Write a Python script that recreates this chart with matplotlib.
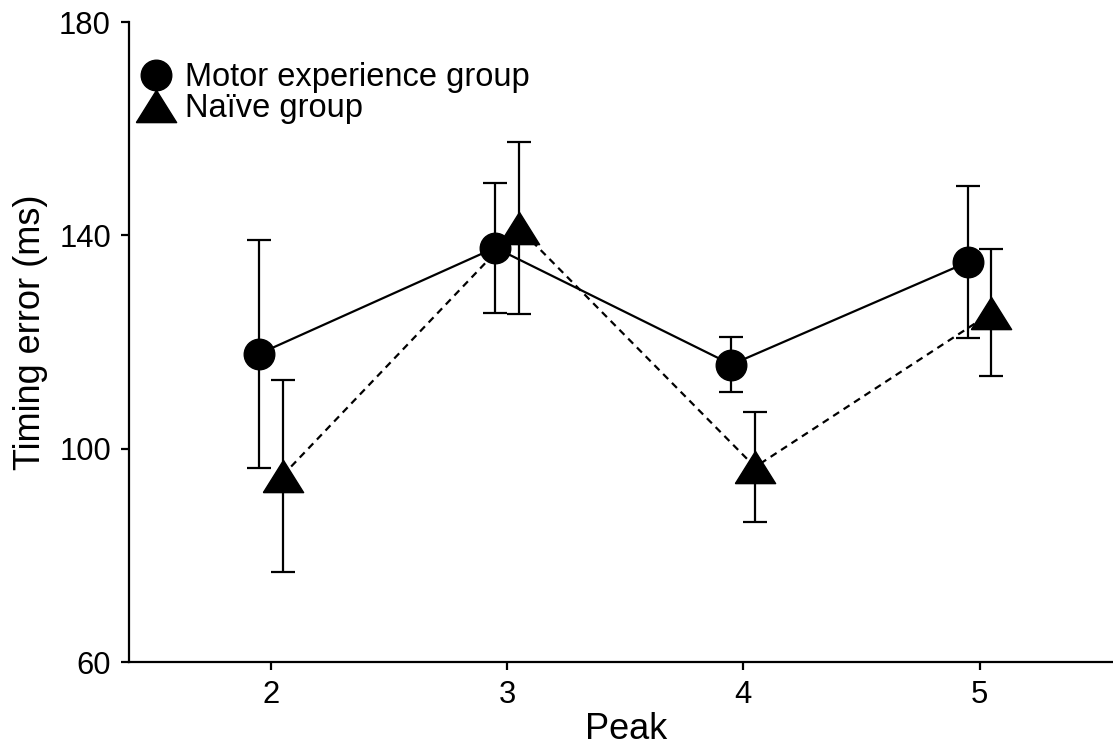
import matplotlib
matplotlib.use("Agg")
import matplotlib.pyplot as plt
from matplotlib.lines import Line2D
import numpy as np

# dati
peaks = [2, 3, 4, 5]
motor_mean = [117.8, 137.7, 115.8, 135.0]
motor_err = [21.3, 12.2, 5.2, 14.3]
naive_mean = [95.0, 141.4, 96.6, 125.5]
naive_err = [18.0, 16.2, 10.3, 11.9]

plt.rcParams['font.family'] = ['Liberation Sans', 'DejaVu Sans']

fig = plt.figure(figsize=(11.13, 7.49), dpi=100)
ax = fig.add_axes([129 / 1113, 1 - 662.3 / 749, 1 - 129 / 1113, (662.3 - 22) / 749])

x = np.array(peaks, dtype=float)
tri = [(-1, -0.8), (1, -0.8), (0, 0.8), (-1, -0.8)]

ax.errorbar(x - 0.05, motor_mean, yerr=motor_err, color='black', linestyle='-',
            linewidth=1.6, marker='o', markersize=22, elinewidth=1.6,
            capsize=8.5, capthick=1.6, zorder=3)
ax.errorbar(x + 0.05, naive_mean, yerr=naive_err, color='black', linestyle=(0, (3.2, 2.4)),
            linewidth=1.6, marker=tri, markersize=29, elinewidth=1.6,
            capsize=8.5, capthick=1.6, zorder=3)

ax.set_xlim(1.4, 5.565)
ax.set_ylim(60, 180)
ax.set_xticks(peaks)
ax.set_yticks([60, 100, 140, 180])
ax.tick_params(axis='both', labelsize=22.3, width=1.6, length=6, pad=7)

for s in ['top', 'right']:
    ax.spines[s].set_visible(False)
for s in ['left', 'bottom']:
    ax.spines[s].set_linewidth(1.6)

ax.set_xlabel('Peak', fontsize=26)
ax.set_ylabel('Timing error (ms)', fontsize=26)
ax.xaxis.set_label_coords(0.505, -0.077)
ax.yaxis.set_label_coords(-0.082, 0.516)

handles = [Line2D([], [], color='black', linestyle='none', marker='o', markersize=22),
           Line2D([], [], color='black', linestyle='none', marker=tri, markersize=29)]
ax.legend(handles, ['Motor experience group', 'Naïve group'], loc='upper left',
          bbox_to_anchor=(-0.006, 0.963), frameon=False, fontsize=23.5,
          handlelength=1.0, handletextpad=0.4, labelspacing=0.0, borderaxespad=0.1)

fig.savefig('out.png', dpi=100)
